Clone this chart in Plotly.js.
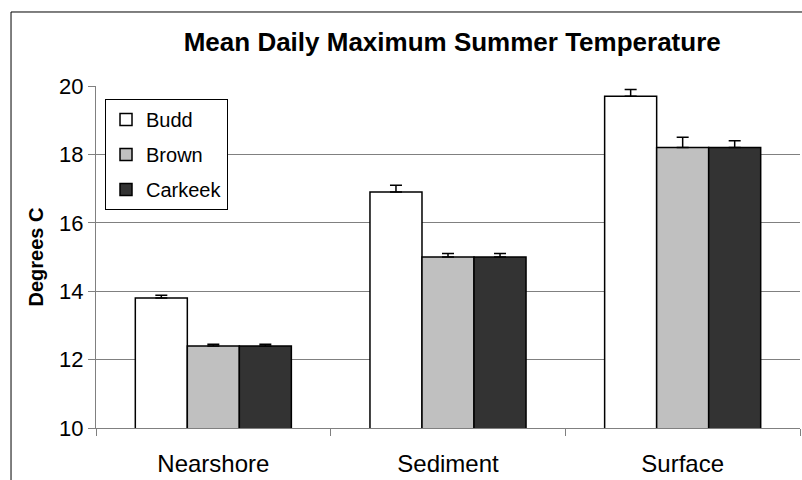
<!DOCTYPE html>
<html>
<head>
<meta charset="utf-8">
<script src="https://cdn.plot.ly/plotly-3.0.1.min.js"></script>
<style>
html,body{margin:0;padding:0;background:#fff;}
#chart{width:802px;height:480px;}
</style>
</head>
<body>
<div id="chart"></div>
<script>
const categories = ["Nearshore", "Sediment", "Surface"];
const seriesNames = ["Budd", "Brown", "Carkeek"];
const buddValues = [13.8, 16.9, 19.7];
const brownValues = [12.4, 15.0, 18.2];
const carkeekValues = [12.4, 15.0, 18.2];
const buddErr = [0.08, 0.2, 0.2];
const brownErr = [0.05, 0.1, 0.3];
const carkeekErr = [0.05, 0.1, 0.2];
const yTicks = [10, 12, 14, 16, 18, 20];

const colors = ["#ffffff", "#c0c0c0", "#333333"];
const values = [buddValues, brownValues, carkeekValues];
const errs = [buddErr, brownErr, carkeekErr];
const FONT = "Liberation Sans, Arial, sans-serif";

const traces = seriesNames.map((name, i) => ({
  type: "bar",
  name: name,
  x: categories,
  y: values[i],
  legendgroup: name,
  marker: {color: colors[i], line: {color: "#000000", width: 1.5}},
  error_y: {
    type: "data",
    array: errs[i],
    arrayminus: errs[i].map(() => 0),
    symmetric: false,
    color: "#000000",
    thickness: 1.5,
    width: 6
  },
  hoverinfo: "x+y+name"
}));

const layout = {
  width: 802,
  height: 480,
  margin: {l: 96, r: 2, t: 86, b: 52},
  paper_bgcolor: "#ffffff",
  plot_bgcolor: "#ffffff",
  font: {family: FONT, color: "#000000"},
  barmode: "group",
  bargap: 0.335,
  bargroupgap: 0,
  title: {
    text: "<b>Mean Daily Maximum Summer Temperature</b>",
    font: {family: FONT, size: 26, color: "#000000"},
    x: 0.506, xanchor: "center", xref: "paper",
    y: 0.893, yanchor: "bottom", yref: "container"
  },
  xaxis: {
    type: "category",
    tickson: "boundaries",
    ticks: "outside",
    ticklen: 7,
    tickcolor: "#808080",
    tickwidth: 1,
    showline: true,
    linecolor: "#808080",
    linewidth: 1,
    showgrid: false,
    ticklabelstandoff: 14,
    tickfont: {family: FONT, size: 24, color: "#000000"},
    fixedrange: true
  },
  yaxis: {
    range: [10, 20],
    tickvals: yTicks,
    ticktext: yTicks.map(String),
    ticks: "outside",
    ticklen: 7,
    tickcolor: "#808080",
    tickwidth: 1,
    showline: true,
    linecolor: "#808080",
    linewidth: 1,
    showgrid: true,
    gridcolor: "#808080",
    gridwidth: 1,
    zeroline: false,
    tickfont: {family: FONT, size: 22, color: "#000000"},
    title: {
      text: "<b>Degrees C</b>",
      font: {family: FONT, size: 20, color: "#000000"},
      standoff: 10
    },
    fixedrange: true
  },
  showlegend: true,
  legend: {
    x: 0.0128, y: 0.962, xanchor: "left", yanchor: "top",
    bgcolor: "#ffffff",
    bordercolor: "#000000",
    borderwidth: 1,
    font: {family: FONT, size: 20, color: "#000000"},
    traceorder: "grouped",
    tracegroupgap: 6,
    itemwidth: 30
  },
  shapes: [{
    type: "rect", xref: "paper", yref: "paper",
    x0: -0.1207, x1: 1.05, y0: -0.3, y1: 1.2164,
    line: {color: "#000000", width: 1},
    fillcolor: "rgba(0,0,0,0)",
    layer: "below"
  }]
};

Plotly.newPlot("chart", traces, layout, {displayModeBar: false, staticPlot: true});
</script>
</body>
</html>
